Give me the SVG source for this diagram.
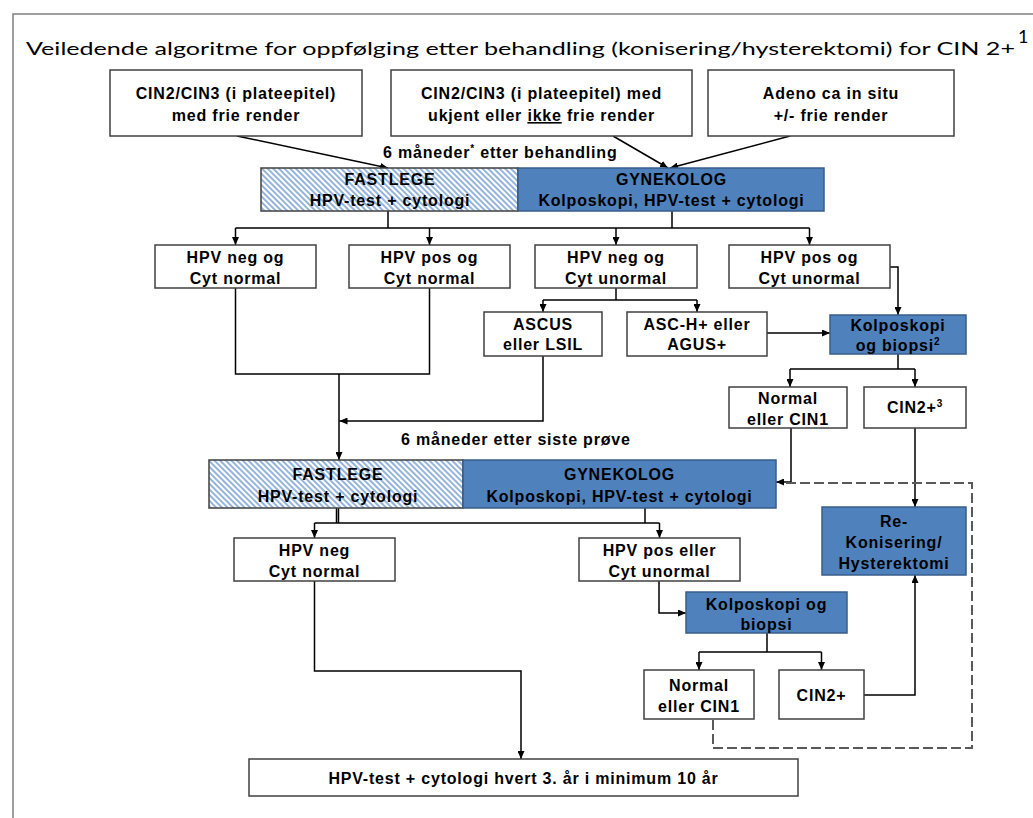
<svg xmlns="http://www.w3.org/2000/svg" width="1033" height="818" viewBox="0 0 1033 818">
<defs>
<style>
.box{fill:#fff;stroke:#404040;stroke-width:1.5}
.blue{fill:#4F81BD;stroke:#385D8A;stroke-width:1.5}
.hatch{fill:url(#hatch);stroke:#404040;stroke-width:1.5}
.t{font-family:"Liberation Sans",Arial,sans-serif;font-weight:bold;font-size:16px;letter-spacing:0.8px;text-anchor:middle;fill:#000}
.lbl{font-family:"Liberation Sans",Arial,sans-serif;font-weight:bold;font-size:16px;letter-spacing:0.8px;fill:#000}
.c{fill:none;stroke:#000;stroke-width:1.5}
.ca{fill:none;stroke:#000;stroke-width:1.5;marker-end:url(#arr)}
.dash{fill:none;stroke:#595959;stroke-width:2;stroke-dasharray:10 4}
.title{font-family:Lato,"Open Sans",sans-serif;font-size:18px;fill:#000}
</style>
<pattern id="hatch" width="4" height="4" patternUnits="userSpaceOnUse" patternTransform="rotate(-45)">
<rect width="4" height="4" fill="#fff"/>
<line x1="2" y1="0" x2="2" y2="4" stroke="#5b8cc8" stroke-width="1.3"/>
</pattern>
<marker id="arr" markerWidth="8" markerHeight="7" refX="8" refY="3.5" orient="auto" markerUnits="userSpaceOnUse">
<path d="M0,0 L8,3.5 L0,7 z" fill="#000"/>
</marker>
</defs>

<rect x="13" y="14" width="1040" height="820" fill="#fff" stroke="#808080" stroke-width="1.5"/>

<g id="title">
<text class="title" x="26" y="55" textLength="989" lengthAdjust="spacingAndGlyphs">Veiledende algoritme for oppfølging etter behandling (konisering/hysterektomi) for CIN 2+</text>
<text class="title" x="1018" y="43" font-size="12">1</text>
</g>

<g id="connectors">
<path class="ca" d="M237,136 L388,168"/>
<path class="ca" d="M613,136 L668,168"/>
<path class="ca" d="M790,136 L670,168"/>
<path class="c" d="M388,211 V228 M672,211 V228 M235.5,228 H809.5"/>
<path class="ca" d="M235.5,228 V245"/>
<path class="ca" d="M429.5,228 V245"/>
<path class="ca" d="M616,228 V245"/>
<path class="ca" d="M809.5,228 V245"/>
<path class="c" d="M235.5,288 V374 H429.5 V288"/>
<path class="ca" d="M339,374 V460"/>
<path class="c" d="M616,288 V300 M543,300 H697"/>
<path class="ca" d="M543,300 V312"/>
<path class="ca" d="M697,300 V312"/>
<path class="ca" d="M543,356 V421 H339.5"/>
<path class="ca" d="M767,333 H830"/>
<path class="ca" d="M890,267 H898 V315"/>
<path class="c" d="M898,354 V369 M790,369 H915"/>
<path class="ca" d="M790,369 V387"/>
<path class="ca" d="M915,369 V387"/>
<path class="ca" d="M791,428 V482 H776"/>
<path class="ca" d="M915,428 V507"/>
<path class="c" d="M336.5,508 V523 M338.5,508 V523 M645,508 V523 M314.5,523 H659.5"/>
<path class="ca" d="M314.5,523 V538"/>
<path class="ca" d="M659.5,523 V538"/>
<path class="ca" d="M314.5,581 V671 H521 V759"/>
<path class="ca" d="M659,581 V613 H686"/>
<path class="c" d="M767,633 V652 M699,652 H821.5"/>
<path class="ca" d="M699,652 V670"/>
<path class="ca" d="M821.5,652 V670"/>
<path class="ca" d="M864,695 H915 V575"/>
<path class="dash" d="M713,720 V748 H972 V483 H782"/>
</g>

<g id="n1">
<rect class="box" x="110" y="70" width="252" height="66"/>
<text class="t" x="236" y="99">CIN2/CIN3 (i plateepitel)</text>
<text class="t" x="236" y="121">med frie render</text>
</g>
<g id="n2">
<rect class="box" x="391" y="70" width="301" height="66"/>
<text class="t" x="541.5" y="99">CIN2/CIN3 (i plateepitel) med</text>
<text class="t" x="541.5" y="121">ukjent eller <tspan text-decoration="underline">ikke</tspan> frie render</text>
</g>
<g id="n3">
<rect class="box" x="708" y="70" width="246" height="66"/>
<text class="t" x="831" y="99">Adeno ca in situ</text>
<text class="t" x="831" y="121">+/- frie render</text>
</g>

<g id="label1">
<text class="lbl" x="383" y="158">6 måneder<tspan font-size="10" dy="-6">*</tspan><tspan dy="6"> etter behandling</tspan></text>
</g>

<g id="n4-fastlege">
<rect class="hatch" x="261" y="168" width="257" height="43"/>
<text class="t" x="390" y="185">FASTLEGE</text>
<text class="t" x="390" y="206">HPV-test + cytologi</text>
</g>
<g id="n4-gynekolog">
<rect class="blue" x="518" y="168" width="306" height="43"/>
<text class="t" x="671.5" y="185">GYNEKOLOG</text>
<text class="t" x="671.5" y="206">Kolposkopi, HPV-test + cytologi</text>
</g>

<g id="n5">
<rect class="box" x="155" y="245" width="161" height="43"/>
<text class="t" x="235.5" y="263">HPV neg og</text>
<text class="t" x="235.5" y="284">Cyt normal</text>
</g>
<g id="n6">
<rect class="box" x="349" y="245" width="161" height="43"/>
<text class="t" x="429.5" y="263">HPV pos og</text>
<text class="t" x="429.5" y="284">Cyt normal</text>
</g>
<g id="n7">
<rect class="box" x="535" y="245" width="162" height="43"/>
<text class="t" x="616" y="263">HPV neg og</text>
<text class="t" x="616" y="284">Cyt unormal</text>
</g>
<g id="n8">
<rect class="box" x="729" y="245" width="161" height="43"/>
<text class="t" x="809.5" y="263">HPV pos og</text>
<text class="t" x="809.5" y="284">Cyt unormal</text>
</g>

<g id="n9">
<rect class="box" x="484" y="312" width="118" height="44"/>
<text class="t" x="543" y="330">ASCUS</text>
<text class="t" x="543" y="350">eller LSIL</text>
</g>
<g id="n10">
<rect class="box" x="627" y="312" width="140" height="44"/>
<text class="t" x="697" y="330">ASC-H+ eller</text>
<text class="t" x="697" y="350">AGUS+</text>
</g>
<g id="n11">
<rect class="blue" x="830" y="315" width="136" height="39"/>
<text class="t" x="898" y="330.5">Kolposkopi</text>
<text class="t" x="898" y="350.5">og biopsi<tspan font-size="10" dy="-6">2</tspan></text>
</g>
<g id="n12">
<rect class="box" x="729" y="387" width="118" height="41"/>
<text class="t" x="788" y="404">Normal</text>
<text class="t" x="788" y="425">eller CIN1</text>
</g>
<g id="n13">
<rect class="box" x="864" y="387" width="102" height="41"/>
<text class="t" x="915" y="413">CIN2+<tspan font-size="10" dy="-6">3</tspan></text>
</g>

<g id="label2">
<text class="lbl" x="401" y="445">6 måneder etter siste prøve</text>
</g>

<g id="n14-fastlege">
<rect class="hatch" x="209" y="460" width="254" height="48"/>
<text class="t" x="338" y="480">FASTLEGE</text>
<text class="t" x="338" y="501.5">HPV-test + cytologi</text>
</g>
<g id="n14-gynekolog">
<rect class="blue" x="463" y="460" width="313" height="48"/>
<text class="t" x="619.5" y="480">GYNEKOLOG</text>
<text class="t" x="619.5" y="501.5">Kolposkopi, HPV-test + cytologi</text>
</g>

<g id="n15">
<rect class="blue" x="822" y="507" width="144" height="68"/>
<text class="t" x="894" y="527">Re-</text>
<text class="t" x="894" y="548">Konisering/</text>
<text class="t" x="894" y="569">Hysterektomi</text>
</g>

<g id="n16">
<rect class="box" x="234" y="538" width="161" height="43"/>
<text class="t" x="314.5" y="556">HPV neg</text>
<text class="t" x="314.5" y="577">Cyt normal</text>
</g>
<g id="n17">
<rect class="box" x="579" y="538" width="161" height="43"/>
<text class="t" x="659.5" y="556">HPV pos eller</text>
<text class="t" x="659.5" y="577">Cyt unormal</text>
</g>
<g id="n18">
<rect class="blue" x="686" y="592" width="161" height="41"/>
<text class="t" x="766.5" y="610">Kolposkopi og</text>
<text class="t" x="766.5" y="630">biopsi</text>
</g>
<g id="n19">
<rect class="box" x="644" y="670" width="110" height="49"/>
<text class="t" x="699" y="691">Normal</text>
<text class="t" x="699" y="712">eller CIN1</text>
</g>
<g id="n20">
<rect class="box" x="779" y="670" width="85" height="49"/>
<text class="t" x="821.5" y="701">CIN2+</text>
</g>
<g id="n21">
<rect class="box" x="249" y="759" width="549" height="37"/>
<text class="t" x="523.5" y="784">HPV-test + cytologi hvert 3. år i minimum 10 år</text>
</g>
</svg>
